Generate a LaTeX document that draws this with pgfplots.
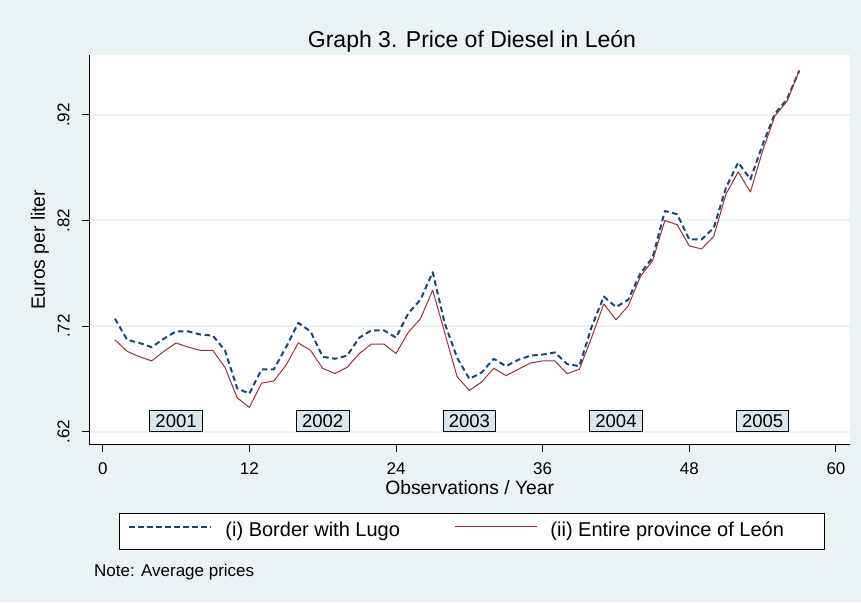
\documentclass[border=0pt]{standalone}
\usepackage{fontspec}
\setmainfont{Liberation Sans}
\usepackage{pgfplots}
\pgfplotsset{compat=1.18}
\definecolor{bgc}{RGB}{234,242,243}
\definecolor{boxfill}{RGB}{217,231,236}
\definecolor{snavy}{RGB}{26,71,111}
\definecolor{smaroon}{RGB}{144,53,59}
\definecolor{gridc}{RGB}{234,242,243}

\pgfplotstableread{
x y
1 0.727
2 0.707
3 0.704
4 0.700
5 0.708
6 0.715
7 0.715
8 0.712
9 0.711
10 0.697
11 0.661
12 0.656
13 0.679
14 0.679
15 0.700
16 0.723
17 0.715
18 0.691
19 0.689
20 0.692
21 0.709
22 0.716
23 0.716
24 0.709
25 0.732
26 0.745
27 0.771
28 0.722
29 0.690
30 0.670
31 0.676
32 0.689
33 0.682
34 0.688
35 0.692
36 0.693
37 0.695
38 0.684
39 0.682
40 0.719
41 0.748
42 0.738
43 0.745
44 0.770
45 0.785
46 0.829
47 0.826
48 0.802
49 0.802
50 0.813
51 0.851
52 0.875
53 0.859
54 0.892
55 0.921
56 0.935
57 0.962
}\border

\pgfplotstableread{
x y
1 0.707
2 0.696
3 0.691
4 0.687
5 0.696
6 0.704
7 0.700
8 0.697
9 0.697
10 0.681
11 0.652
12 0.643
13 0.666
14 0.668
15 0.683
16 0.704
17 0.697
18 0.680
19 0.675
20 0.681
21 0.694
22 0.703
23 0.703
24 0.694
25 0.714
26 0.727
27 0.754
28 0.713
29 0.672
30 0.659
31 0.667
32 0.680
33 0.673
34 0.679
35 0.685
36 0.687
37 0.687
38 0.675
39 0.679
40 0.709
41 0.741
42 0.726
43 0.739
44 0.767
45 0.782
46 0.820
47 0.816
48 0.796
49 0.793
50 0.805
51 0.845
52 0.866
53 0.847
54 0.886
55 0.919
56 0.933
57 0.962
}\province

\begin{document}
\begin{tikzpicture}[x=1pt,y=1pt]
\fill[bgc] (0pt,0pt) rectangle (861pt,602pt);
\useasboundingbox (0pt,0pt) rectangle (861pt,602pt);
\begin{axis}[
  at={(89.3pt,157.7pt)}, anchor=south west,
  scale only axis, width=760.7pt, height=388.8pt,
  xmin=-1.1, xmax=61.15, ymin=0.608, ymax=0.9763,
  axis background/.style={fill=white},
  axis x line*=bottom, axis y line*=left,
  axis line style={black, line width=1pt},
  xtick={0,12,24,36,48,60},
  ytick={0.62,0.72,0.82,0.92},
  yticklabels={.62,.72,.82,.92},
  minor tick num=0,
  tick align=outside,
  major tick length=7.5pt,
  tick style={black, line width=1pt},
  ymajorgrids,
  major grid style={gridc, line width=2pt},
  /pgf/number format/assume math mode=true,
  ticklabel style={font=\fontsize{17}{17}\selectfont},
  xticklabel style={anchor=north, inner sep=0pt, yshift=-10.2pt},
  yticklabel style={xshift=-12pt, rotate=90, anchor=south, inner sep=0pt},
  xlabel={Observations / Year},
  xlabel style={at={(0.5,-0.1124)}, anchor=center, font=\fontsize{19.3}{19.3}\selectfont},
  ylabel={Euros per liter},
  ylabel style={at={(-0.0648,0.5)}, anchor=center, font=\fontsize{19.3}{19.3}\selectfont},
  legend columns=2,
  legend image code/.code={\draw[#1] (0pt,5pt) -- (82pt,5pt);},
  legend style={at={(0.0385,-0.1759)}, anchor=north west,
    draw=black, line width=1pt, fill=white,
    inner xsep=9.4pt, inner ysep=9pt,
    font=\fontsize{20}{20}\selectfont,
    nodes={inner sep=0pt, text height=14.6pt, text depth=4.2pt},
    /tikz/every odd column/.append style={column sep=13pt},
    /tikz/every even column/.append style={column sep=14pt}},
  legend cell align=left,
]
\addplot[snavy, line width=2pt, dash pattern=on 5.5pt off 3.5pt, line join=round] table[x=x,y=y] {\border};
\addlegendentry{\makebox[215pt][l]{(i) Border with Lugo}}
\addplot[smaroon, line width=1pt, line join=round] table[x=x,y=y] {\province};
\addlegendentry{\makebox[265pt][l]{(ii) Entire province of León}}

\tikzset{yearbox/.style={draw=black, line width=1pt, fill=boxfill, minimum width=52.7pt, minimum height=21pt, inner sep=0pt, font=\fontsize{18.5}{18.5}\selectfont}}
\node[yearbox] at (axis cs:6,0.630) {2001};
\node[yearbox] at (axis cs:18,0.630) {2002};
\node[yearbox] at (axis cs:30,0.630) {2003};
\node[yearbox] at (axis cs:42,0.630) {2004};
\node[yearbox] at (axis cs:54,0.630) {2005};
\end{axis}
\node[anchor=base, font=\fontsize{23}{23}\selectfont] at (472pt,554pt) {Graph 3. Price of Diesel in León};
\node[anchor=base west, inner sep=0pt, font=\fontsize{17}{17}\selectfont] at (94pt,26pt) {Note: Average prices};
\end{tikzpicture}
\end{document}
